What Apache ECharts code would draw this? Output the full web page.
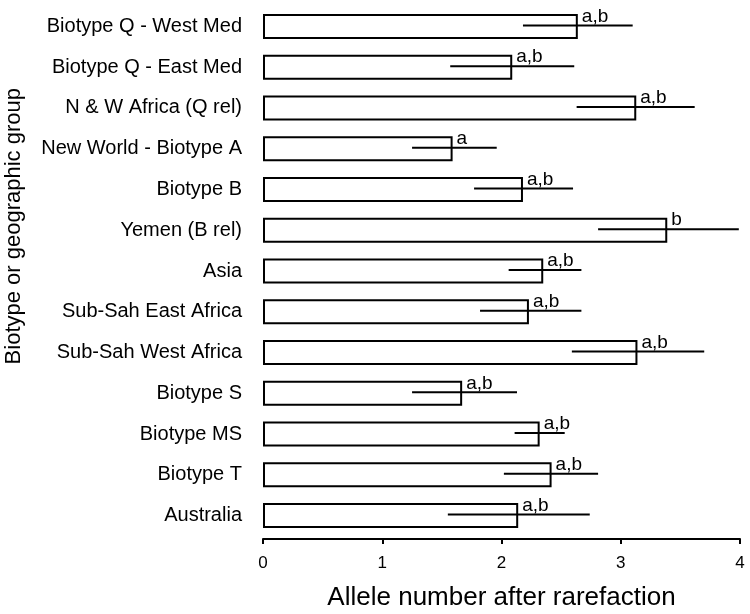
<!DOCTYPE html>
<html>
<head>
<meta charset="utf-8">
<script src="https://cdn.jsdelivr.net/npm/echarts@6/dist/echarts.min.js"></script>
<style>html,body{margin:0;padding:0;background:#fff;}#chart{width:750px;height:614px;}</style>
</head>
<body>
<div id="chart"></div>
<script>
const categories = [
  "Biotype Q - West Med",
  "Biotype Q - East Med",
  "N & W Africa (Q rel)",
  "New World - Biotype A",
  "Biotype B",
  "Yemen (B rel)",
  "Asia",
  "Sub-Sah East Africa",
  "Sub-Sah West Africa",
  "Biotype S",
  "Biotype MS",
  "Biotype T",
  "Australia"
];
const means = [2.64, 2.09, 3.13, 1.59, 2.18, 3.39, 2.35, 2.23, 3.14, 1.67, 2.32, 2.42, 2.14];
const errLow = [2.18, 1.57, 2.63, 1.25, 1.77, 2.81, 2.06, 1.82, 2.59, 1.25, 2.11, 2.02, 1.55];
const errHigh = [3.10, 2.61, 3.62, 1.96, 2.60, 3.99, 2.67, 2.67, 3.70, 2.13, 2.53, 2.81, 2.74];
const letters = ["a,b", "a,b", "a,b", "a", "a,b", "b", "a,b", "a,b", "a,b", "a,b", "a,b", "a,b", "a,b"];
const xTicks = [0, 1, 2, 3, 4];
const xTitle = "Allele number after rarefaction";
const yTitle = "Biotype or geographic group";

const FONT = '"Liberation Sans", Arial, Helvetica, sans-serif';
const errData = categories.map((c, i) => [i, errLow[i], errHigh[i], means[i]]);

const chart = echarts.init(document.getElementById('chart'), null, {renderer: 'canvas'});
chart.setOption({
  animation: false,
  backgroundColor: '#fff',
  grid: {left: 263, right: 10, top: 6, bottom: 78, containLabel: false, outerBoundsMode: 'none'},
  xAxis: {
    type: 'value', min: xTicks[0], max: xTicks[xTicks.length - 1], interval: 1,
    offset: 3,
    splitLine: {show: false},
    axisLine: {show: true, lineStyle: {color: '#000', width: 2}},
    axisTick: {show: true, length: 5, lineStyle: {color: '#000', width: 2}},
    axisLabel: {color: '#000', fontSize: 17, fontFamily: FONT, margin: 16},
    name: xTitle, nameLocation: 'middle', nameGap: 46,
    nameTextStyle: {color: '#000', fontSize: 26, fontFamily: FONT}
  },
  yAxis: {
    type: 'category', data: categories, inverse: true,
    axisLine: {show: false}, axisTick: {show: false},
    axisLabel: {color: '#000', fontSize: 20, fontFamily: FONT, margin: 21, padding: [0, 0, 3, 0]}
  },
  graphic: [{
    type: 'text', left: 3, top: 88,
    rotation: Math.PI / 2,
    style: {text: yTitle, fill: '#000', font: '22px ' + FONT}
  }],
  series: [{
    type: 'bar', data: means, barWidth: 25,
    itemStyle: {color: '#fff', borderColor: '#000', borderWidth: 2},
    z: 2
  }, {
    type: 'custom', data: errData, z: 3,
    encode: {y: 0, x: [1, 2, 3]},
    renderItem: function (params, api) {
      const idx = api.value(0);
      const lo = api.coord([api.value(1), idx]);
      const hi = api.coord([api.value(2), idx]);
      const mid = api.coord([api.value(3), idx]);
      return {
        type: 'group',
        children: [{
          type: 'line',
          shape: {x1: lo[0], y1: lo[1] - 1, x2: hi[0], y2: hi[1] - 1},
          style: {stroke: '#000', lineWidth: 2}
        }, {
          type: 'text',
          style: {
            text: letters[idx], x: mid[0] + 4, y: mid[1] - 10,
            fill: '#000', font: '19px ' + FONT,
            align: 'left', verticalAlign: 'middle'
          }
        }]
      };
    }
  }]
});
</script>
</body>
</html>
